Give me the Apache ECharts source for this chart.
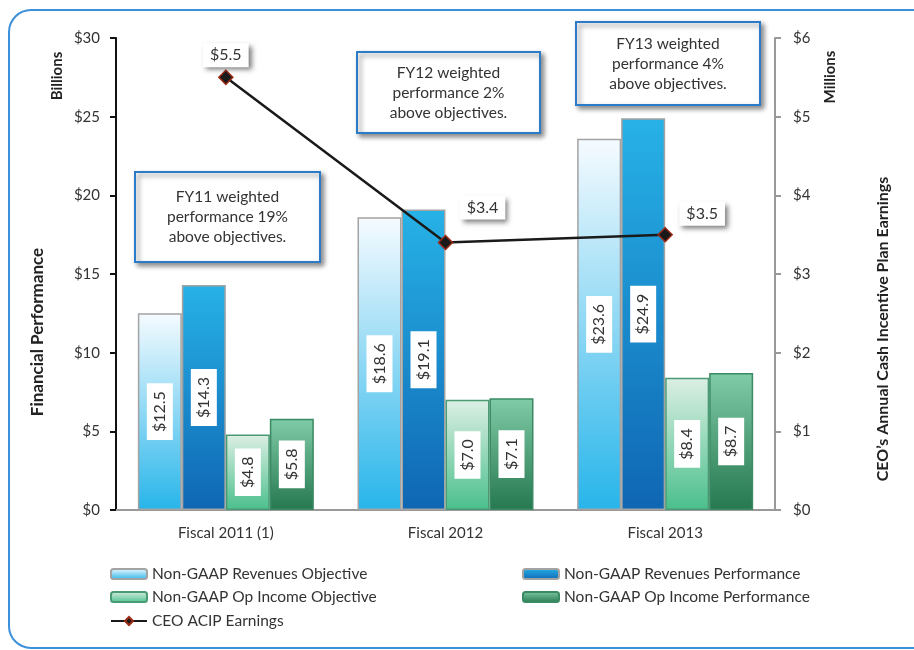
<!DOCTYPE html>
<html>
<head>
<meta charset="utf-8">
<script src="https://cdn.jsdelivr.net/npm/echarts@6/dist/echarts.min.js"></script>
<style>
  html, body { margin: 0; padding: 0; background: #fff; }
  #chart { width: 914px; height: 650px; }
</style>
</head>
<body>
<div id="chart"></div>
<script>
// 数据
const categories = ["Fiscal 2011 (1)", "Fiscal 2012", "Fiscal 2013"];
const revObjective = [12.5, 18.6, 23.6];
const revPerformance = [14.3, 19.1, 24.9];
const opObjective = [4.8, 7.0, 8.4];
const opPerformance = [5.8, 7.1, 8.7];
const acipEarnings = [5.5, 3.4, 3.5];
const seriesNames = [
  "Non-GAAP Revenues Objective",
  "Non-GAAP Revenues Performance",
  "Non-GAAP Op Income Objective",
  "Non-GAAP Op Income Performance",
  "CEO ACIP Earnings",
];
const notes = [
  "FY11 weighted\nperformance 19%\nabove objectives.",
  "FY12 weighted\nperformance 2%\nabove objectives.",
  "FY13 weighted\nperformance 4%\nabove objectives.",
];

const FONT = "Lato";
const chart = echarts.init(document.getElementById("chart"));

function grad(top, bottom) {
  return new echarts.graphic.LinearGradient(0, 0, 0, 1, [
    { offset: 0, color: top },
    { offset: 1, color: bottom },
  ]);
}

const barLabel = {
  show: true,
  position: "inside",
  rotate: 90,
  color: "#333",
  fontSize: 16,
  fontFamily: FONT,
  backgroundColor: "#fff",
  padding: [6, 8, 4, 8],
  formatter: (p) => "$" + p.value.toFixed(1),
};

function barSeries(name, data, top, bottom, border) {
  return {
    name: name,
    type: "bar",
    data: data,
    barWidth: 44,
    barGap: "0%",
    itemStyle: { color: grad(top, bottom), borderColor: border, borderWidth: 1.5 },
    label: barLabel,
  };
}

// 折线标签偏移
const lineLabelOffsets = [[0, -22], [37, -35], [37, -21]];

// 注释框
const noteBoxes = [
  { x: 135, y: 172, w: 185, h: 90 },
  { x: 357, y: 52, w: 183, h: 81 },
  { x: 576, y: 22, w: 184, h: 83 },
];

const graphics = [
  {
    type: "rect",
    shape: { x: 9, y: 10, width: 960, height: 638, r: 22 },
    style: { fill: "none", stroke: "#3b90d9", lineWidth: 2 },
    z: 0,
  },
  {
    type: "text", x: 38, y: 332, rotation: Math.PI / 2,
    style: { text: "Financial Performance", font: "bold 17px " + FONT, fill: "#222", align: "center", verticalAlign: "middle" },
  },
  {
    type: "text", x: 57, y: 76, rotation: Math.PI / 2,
    style: { text: "Billions", font: "bold 15px " + FONT, fill: "#222", align: "center", verticalAlign: "middle" },
  },
  {
    type: "text", x: 830, y: 77, rotation: Math.PI / 2,
    style: { text: "Millions", font: "bold 15px " + FONT, fill: "#222", align: "center", verticalAlign: "middle" },
  },
  {
    type: "text", x: 883, y: 329, rotation: Math.PI / 2,
    style: { text: "CEO\u2019s Annual Cash Incentive Plan Earnings", font: "bold 16px " + FONT, fill: "#222", align: "center", verticalAlign: "middle" },
  },
];
noteBoxes.forEach((b, i) => {
  graphics.push({
    type: "rect",
    shape: { x: b.x, y: b.y, width: b.w, height: b.h },
    style: {
      fill: "#fff", stroke: "#2b7bc8", lineWidth: 2,
      shadowBlur: 5, shadowColor: "rgba(0,0,0,0.45)", shadowOffsetX: 3, shadowOffsetY: 3,
    },
    z: 10,
  });
  graphics.push({
    type: "text",
    x: b.x + b.w / 2,
    y: b.y + b.h / 2,
    style: {
      text: notes[i], font: "15.5px " + FONT, fill: "#333",
      align: "center", verticalAlign: "middle", lineHeight: 20,
    },
    z: 11,
  });
});

// 图例位置
const legendPos = [[110, 566], [522, 566], [110, 589], [522, 589], [110, 613]];

const option = {
  animation: false,
  textStyle: { fontFamily: FONT },
  grid: { left: 116, right: 139, top: 38, bottom: 140 },
  graphic: graphics,
  legend: seriesNames.map((n, i) => ({
    data: [n],
    left: legendPos[i][0],
    top: legendPos[i][1],
    itemWidth: 36,
    itemHeight: 10,
    padding: 0,
    textStyle: { fontSize: 15.5, color: "#333", fontFamily: FONT },
  })),
  xAxis: {
    type: "category",
    data: categories,
    axisLine: { lineStyle: { color: "#999", width: 2 } },
    axisTick: { lineStyle: { color: "#999", width: 2 }, length: 6 },
    axisLabel: { color: "#333", fontSize: 15, margin: 16 },
  },
  yAxis: [
    {
      type: "value",
      min: 0, max: 30, interval: 5,
      axisLine: { show: true, lineStyle: { color: "#111", width: 2 } },
      axisTick: { show: true, lineStyle: { color: "#111", width: 2 }, length: 6 },
      splitLine: { show: false },
      axisLabel: { color: "#333", fontSize: 15, margin: 16, formatter: (v) => "$" + v },
    },
    {
      type: "value",
      min: 0, max: 6, interval: 1,
      axisLine: { show: true, lineStyle: { color: "#999", width: 2 } },
      axisTick: { show: true, lineStyle: { color: "#999", width: 2 }, length: 6 },
      splitLine: { show: false },
      axisLabel: { color: "#333", fontSize: 15, margin: 18, formatter: (v) => "$" + v },
    },
  ],
  series: [
    barSeries(seriesNames[0], revObjective, "#f6fbff", "#27b5ea", "#a3a3a3"),
    barSeries(seriesNames[1], revPerformance, "#27b2e7", "#0f66b3", "#a3a3a3"),
    barSeries(seriesNames[2], opObjective, "#dcefe4", "#4abf8c", "#4a9a73"),
    barSeries(seriesNames[3], opPerformance, "#80cba8", "#25784f", "#3a8a63"),
    {
      name: seriesNames[4],
      type: "line",
      yAxisIndex: 1,
      z: 20,
      data: acipEarnings.map((v, i) => ({
        value: v,
        label: { offset: lineLabelOffsets[i] },
      })),
      symbol: "diamond",
      symbolSize: 14,
      lineStyle: { color: "#1a1a1a", width: 2.5 },
      itemStyle: { color: "#1a1a1a", borderColor: "#9a2a14", borderWidth: 1.5 },
      label: {
        show: true,
        position: "inside",
        color: "#333",
        fontSize: 16,
        fontFamily: FONT,
        backgroundColor: "#fff",
        padding: [4, 7],
        shadowBlur: 5,
        shadowColor: "rgba(0,0,0,0.5)",
        shadowOffsetX: 3,
        shadowOffsetY: 3,
        formatter: (p) => "$" + p.value,
      },
    },
  ],
};

chart.setOption(option);
window.onresize = chart.resize;
</script>
</body>
</html>
